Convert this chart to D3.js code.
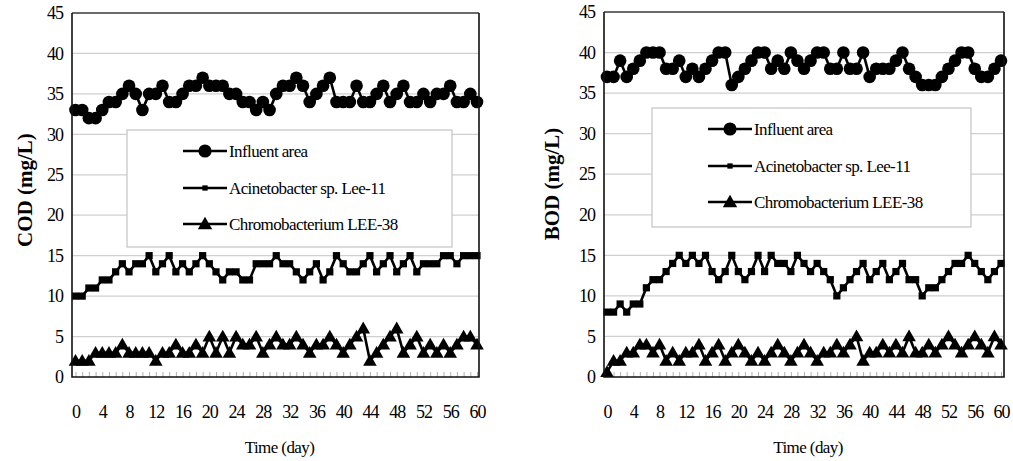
<!DOCTYPE html>
<html>
<head>
<meta charset="utf-8">
<script src="https://cdn.jsdelivr.net/npm/d3@7"></script>
<style>
  body { margin: 0; background: #fff; }
  text { font-family: "Liberation Serif", "Times New Roman", serif; fill: #000; }
</style>
</head>
<body>
<svg id="chart" width="1013" height="461"></svg>
<script>
// daily readings, day 0 .. 60
const codInfluent = [
  33, 33, 32, 32, 33, 34, 34, 35, 36, 35,
  33, 35, 35, 36, 34, 34, 35, 36, 36, 37,
  36, 36, 36, 35, 35, 34, 34, 33, 34, 33,
  35, 36, 36, 37, 36, 34, 35, 36, 37, 34,
  34, 34, 36, 34, 34, 35, 36, 34, 35, 36,
  34, 34, 35, 34, 35, 35, 36, 34, 34, 35,
  34
];
const codLee11 = [
  10, 10, 11, 11, 12, 12, 13, 14, 13, 14,
  14, 15, 13, 14, 15, 13, 14, 13, 14, 15,
  14, 13, 12, 13, 13, 12, 12, 14, 14, 14,
  15, 14, 14, 13, 12, 13, 14, 12, 13, 15,
  14, 13, 13, 14, 15, 13, 14, 15, 13, 14,
  15, 13, 14, 14, 14, 15, 15, 14, 15, 15,
  15
];
const codLee38 = [
  2, 2, 2, 3, 3, 3, 3, 4, 3, 3,
  3, 3, 2, 3, 3, 4, 3, 3, 4, 3,
  5, 3, 5, 3, 5, 4, 4, 5, 3, 4,
  5, 4, 4, 5, 4, 3, 4, 4, 5, 4,
  3, 4, 5, 6, 2, 3, 4, 5, 6, 3,
  4, 5, 3, 4, 3, 4, 3, 4, 5, 5,
  4
];
const bodInfluent = [
  37, 37, 39, 37, 38, 39, 40, 40, 40, 38,
  38, 39, 37, 38, 37, 38, 39, 40, 40, 36,
  37, 38, 39, 40, 40, 38, 39, 38, 40, 39,
  38, 39, 40, 40, 38, 38, 40, 38, 38, 40,
  37, 38, 38, 38, 39, 40, 38, 37, 36, 36,
  36, 37, 38, 39, 40, 40, 38, 37, 37, 38,
  39
];
const bodLee11 = [
  8, 8, 9, 8, 9, 9, 11, 12, 12, 13,
  14, 15, 14, 15, 14, 15, 13, 12, 13, 15,
  13, 12, 13, 15, 13, 15, 14, 14, 13, 15,
  14, 13, 14, 13, 12, 10, 11, 12, 13, 14,
  12, 13, 14, 12, 13, 14, 12, 12, 10, 11,
  11, 12, 13, 14, 14, 15, 14, 13, 12, 13,
  14
];
const bodLee38 = [
  0.6, 2, 2, 3, 3, 4, 4, 3, 4, 2,
  3, 2, 3, 3, 4, 2, 3, 4, 2, 3,
  4, 3, 2, 3, 2, 3, 4, 3, 2, 3,
  4, 3, 2, 3, 3, 4, 3, 4, 5, 2,
  3, 3, 4, 3, 4, 3, 5, 3, 3, 4,
  3, 4, 5, 4, 3, 4, 5, 4, 3, 5,
  4
];

const seriesNames = ['Influent area', 'Acinetobacter sp. Lee-11', 'Chromobacterium LEE-38'];
const xTicks = [0, 4, 8, 12, 16, 20, 24, 28, 32, 36, 40, 44, 48, 52, 56, 60];
const yTicks = [0, 5, 10, 15, 20, 25, 30, 35, 40, 45];
const gridValues = [5, 10, 15, 20, 25, 30, 35, 40];
const xLabel = 'Time (day)';

const panels = [
  {
    yLabel: 'COD (mg/L)', series: [codInfluent, codLee11, codLee38],
    left: 72, right: 479, top: 13, bottom: 377, x0: 75.5, x1: 477,
    labelX: 25, labelY: 190,
    legend: { x: 127, y: 130, w: 325, h: 117, rows: [151, 188, 224] }
  },
  {
    yLabel: 'BOD (mg/L)', series: [bodInfluent, bodLee11, bodLee38],
    left: 604, right: 1004, top: 12, bottom: 377, x0: 607, x1: 1001,
    labelX: 552, labelY: 184,
    legend: { x: 652, y: 108, w: 319, h: 119, rows: [129, 166, 202] }
  }
];

const symbols = [
  d3.symbol().type(d3.symbolCircle).size(125),
  d3.symbol().type(d3.symbolSquare).size(52),
  d3.symbol().type(d3.symbolTriangle).size(80)
];
const legendSymbols = [
  d3.symbol().type(d3.symbolCircle).size(135),
  d3.symbol().type(d3.symbolSquare).size(28),
  d3.symbol().type(d3.symbolTriangle).size(90)
];

const svg = d3.select('#chart');
svg.append('rect').attr('width', 1013).attr('height', 461).attr('fill', '#fff');

panels.forEach((p) => {
  const g = svg.append('g');
  const x = d3.scaleLinear().domain([0, 60]).range([p.x0, p.x1]);
  const y = d3.scaleLinear().domain([0, 45]).range([p.bottom, p.top]);

  // gridlines
  g.selectAll('line.grid')
    .data(gridValues)
    .enter()
    .append('line')
    .attr('x1', p.left).attr('x2', p.right)
    .attr('y1', (d) => y(d)).attr('y2', (d) => y(d))
    .attr('stroke', '#cfcfcf').attr('stroke-width', 1.2);

  // minor day ticks
  const minor = g.append('g')
    .attr('transform', `translate(0,${p.bottom})`)
    .call(d3.axisBottom(x).tickValues(d3.range(0, 61)).tickSize(-5).tickFormat(''));
  minor.select('.domain').remove();
  minor.selectAll('line').attr('stroke', '#b0b0b0');

  // legend box
  const lg = g.append('g');
  lg.append('rect')
    .attr('x', p.legend.x).attr('y', p.legend.y)
    .attr('width', p.legend.w).attr('height', p.legend.h)
    .attr('fill', '#fff').attr('stroke', '#c4c4c4').attr('stroke-width', 1.2);
  seriesNames.forEach((name, i) => {
    const ry = p.legend.rows[i];
    const lx = p.legend.x + 56;
    lg.append('line')
      .attr('x1', lx).attr('x2', lx + 44)
      .attr('y1', ry).attr('y2', ry)
      .attr('stroke', '#000').attr('stroke-width', 2.6);
    lg.append('path')
      .attr('d', legendSymbols[i])
      .attr('transform', `translate(${lx + 22},${ry + (i === 2 ? 1 : 0)})`)
      .attr('fill', '#000');
    lg.append('text')
      .attr('x', lx + 46).attr('y', ry + 6)
      .attr('font-size', 17)
      .attr('letter-spacing', -0.6)
      .text(name);
  });

  // series
  const line = d3.line().x((d, i) => x(i)).y((d) => y(d));
  p.series.forEach((values, si) => {
    g.append('path')
      .datum(values)
      .attr('d', line)
      .attr('fill', 'none')
      .attr('stroke', '#000')
      .attr('stroke-width', 2.6);
    g.selectAll(null)
      .data(values)
      .enter()
      .append('path')
      .attr('d', symbols[si])
      .attr('transform', (d, i) => `translate(${x(i)},${y(d) + (si === 2 ? 1 : 0)})`)
      .attr('fill', '#000');
  });

  // frame
  g.append('line')
    .attr('x1', p.left).attr('x2', p.right).attr('y1', p.top).attr('y2', p.top)
    .attr('stroke', '#6a6a6a').attr('stroke-width', 2);
  g.append('path')
    .attr('d', `M${p.left},${p.top}V${p.bottom}H${p.right}V${p.top}`)
    .attr('fill', 'none').attr('stroke', '#111').attr('stroke-width', 1.6);

  // y axis labels
  const ya = g.append('g')
    .attr('transform', `translate(${p.left},0)`)
    .call(d3.axisLeft(y).tickValues(yTicks).tickSize(0).tickPadding(9));
  ya.select('.domain').remove();
  ya.selectAll('text')
    .attr('font-family', '"Liberation Serif", serif')
    .attr('font-size', 18)
    .attr('letter-spacing', -1)
    .attr('fill', '#000');

  // x axis labels
  const xa = g.append('g')
    .attr('transform', `translate(0,${p.bottom})`)
    .call(d3.axisBottom(x).tickValues(xTicks).tickSize(0).tickPadding(28));
  xa.select('.domain').remove();
  xa.selectAll('text')
    .attr('font-family', '"Liberation Serif", serif')
    .attr('font-size', 18)
    .attr('letter-spacing', -1)
    .attr('fill', '#000');

  g.append('text')
    .attr('x', (p.left + p.right) / 2 + 4).attr('y', 453)
    .attr('text-anchor', 'middle')
    .attr('font-size', 17)
    .attr('letter-spacing', -0.6)
    .text(xLabel);

  g.append('text')
    .attr('transform', `translate(${p.labelX},${p.labelY}) rotate(-90)`)
    .attr('text-anchor', 'middle')
    .attr('dy', '0.35em')
    .attr('font-size', 21)
    .attr('font-weight', 'bold')
    .text(p.yLabel);
});
</script>
</body>
</html>
